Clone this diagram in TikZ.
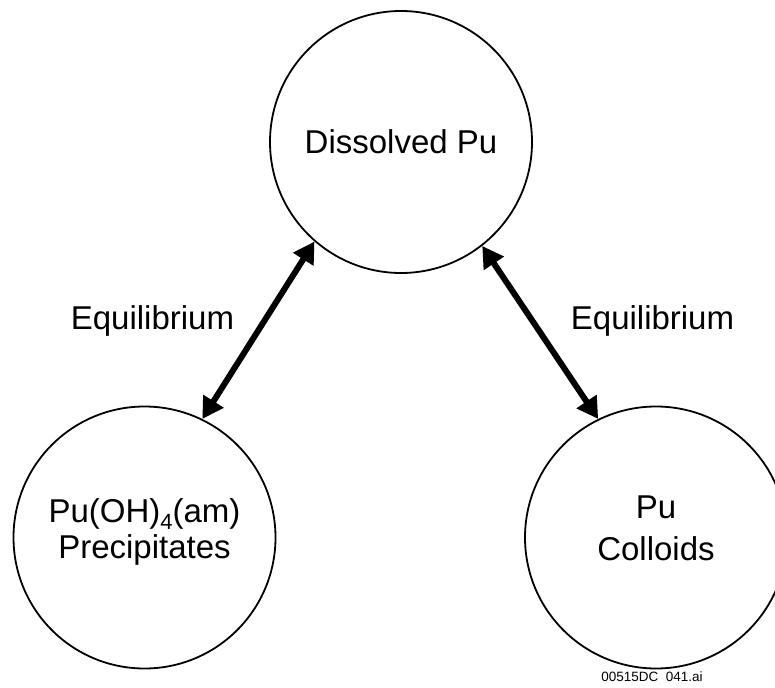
\documentclass[tikz,border=0pt]{standalone}
\usepackage{fontspec}
\setmainfont{Liberation Sans}
\usetikzlibrary{arrows.meta}
\begin{document}
\begin{tikzpicture}[x=1pt, y=-1pt,
    phase/.style={draw, circle, line width=1.8pt, minimum size=262pt, align=center,
        font=\fontsize{33}{40}\selectfont},
    eqarrow/.style={{Triangle[length=21pt,width=23pt]}-{Triangle[length=21pt,width=23pt]},
        line width=6pt},
    eqlabel/.style={font=\fontsize{33}{40}\selectfont}]
    \useasboundingbox (0,0) rectangle (775,687);

    % Pu phases
    \node[phase] (dissolved) at (401,142) {Dissolved Pu};
    \node[phase] (precip) at (144.5,537.5) {};
    \node[phase] (colloids) at (656,537.5) {};
    \node[align=center, font=\fontsize{33}{36}\selectfont] (preciptext) at (144.5,532)
        {Pu(OH)\raisebox{-7pt}{\fontsize{22}{22}\selectfont 4}(am)\\Precipitates};
    \node[align=center, font=\fontsize{33}{42}\selectfont] (colloidtext) at (656,528) {Pu\\Colloids};

    % Equilibrium arrows
    \draw[eqarrow] (dissolved.229.6) -- (precip.64.2);
    \draw[eqarrow] (dissolved.308.5) -- (colloids.116.4);

    % Arrow labels
    \node[eqlabel] (eqleft) at (152.5,321) {Equilibrium};
    \node[eqlabel] (eqright) at (652.5,321) {Equilibrium};

    % File tag
    \node[font=\fontsize{13.5}{16}\selectfont] (tag) at (652,677) {00515DC\ \ 041.ai};

\end{tikzpicture}
\end{document}
